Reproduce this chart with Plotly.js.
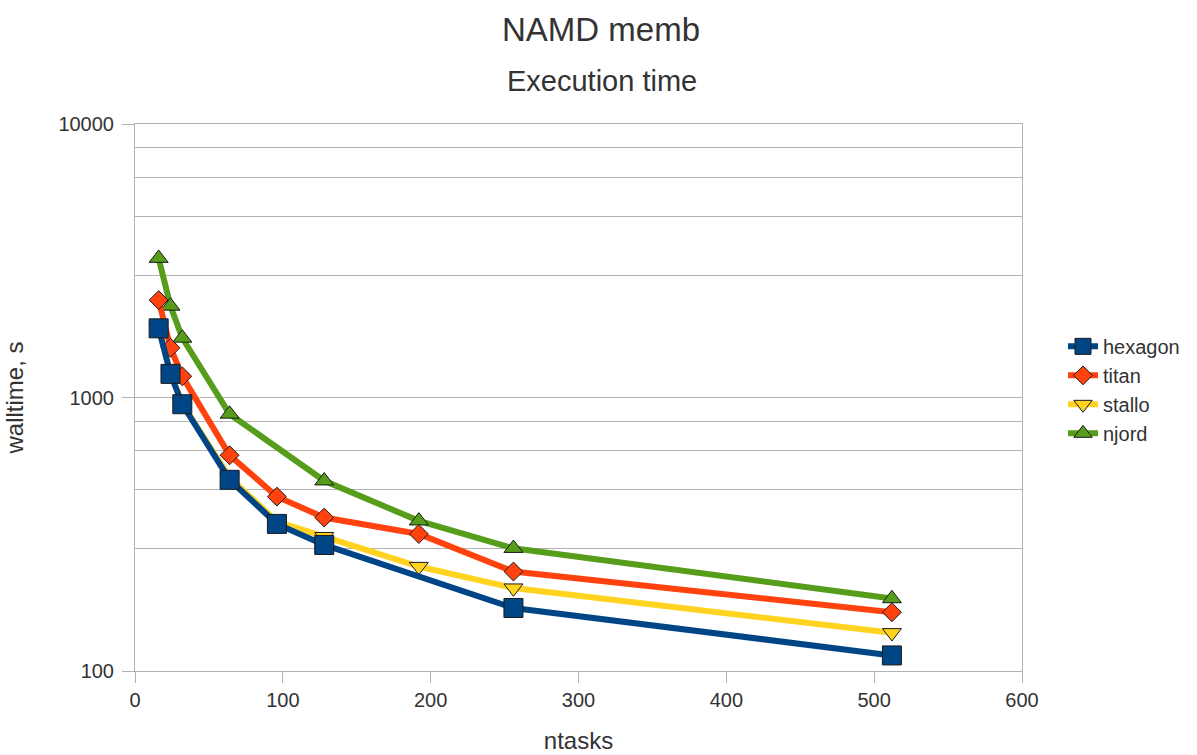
<!DOCTYPE html>
<html>
<head>
<meta charset="utf-8">
<script src="https://cdn.plot.ly/plotly-3.0.1.min.js"></script>
<style>html,body{margin:0;padding:0;background:#fff;}#chart{width:1197px;height:755px;}</style>
</head>
<body>
<div id="chart"></div>
<script>
// ntasks
const xHexagon = [16, 24, 32, 64, 96, 128, 256, 512];
const yHexagon = [1790, 1220, 945, 500, 345, 289, 170, 114];

const xTitan = [16, 24, 32, 64, 96, 128, 192, 256, 512];
const yTitan = [2270, 1520, 1195, 615, 434, 364, 317, 231, 164];

const xStallo = [16, 24, 32, 64, 96, 128, 192, 256, 512];
const yStallo = [1800, 1225, 948, 510, 352, 310, 241, 201, 138];

const xNjord = [16, 24, 32, 64, 128, 192, 256, 512];
const yNjord = [3230, 2160, 1650, 870, 496, 354, 281, 184];

const yMajorTicks = [100, 1000, 10000];
const yMajorLabels = ["100", "1000", "10000"];
const yMinorTicks = [280, 460, 640, 820, 2800, 4600, 6400, 8200];

const FONT = "Liberation Sans, Arial, sans-serif";
const GRID = "#b3b3b3";
const TXT = "#333333";

function series(name, xs, ys, color, symbol, size, rank) {
  return {
    type: "scatter", mode: "lines+markers", name: name, x: xs, y: ys, legendrank: rank,
    line: {color: color, width: 6},
    marker: {symbol: symbol, size: size, color: color, line: {color: "#1a1a1a", width: 1}}
  };
}

// drawing order: njord bottom, hexagon on top; legend order via legendrank
const data = [
  series("njord", xNjord, yNjord, "#579d1c", "triangle-up", 16.5, 4),
  series("stallo", xStallo, yStallo, "#ffd320", "triangle-down", 16.5, 3),
  series("titan", xTitan, yTitan, "#ff420e", "diamond", 14.5, 2),
  series("hexagon", xHexagon, yHexagon, "#004586", "square", 19, 1)
];

const layout = {
  width: 1197, height: 755,
  margin: {l: 135, r: 175, t: 124, b: 84},
  paper_bgcolor: "#ffffff", plot_bgcolor: "#ffffff",
  font: {family: FONT, color: TXT},
  showlegend: true,
  title: {text: "NAMD memb", font: {size: 33, color: TXT, family: FONT},
          x: 601 / 1197, xref: "container", xanchor: "center", y: 1 - 29/755, yanchor: "middle"},
  annotations: [{text: "Execution time", showarrow: false, xref: "paper", yref: "paper",
                 x: (601.5 - 135) / 887, y: (671 - 81) / 547, xanchor: "center", yanchor: "middle",
                 font: {size: 29, color: TXT, family: FONT}}],
  xaxis: {
    range: [0, 600], tickmode: "linear", tick0: 0, dtick: 100,
    ticks: "outside", ticklen: 11, tickcolor: GRID, tickwidth: 1,
    showgrid: false, zeroline: false, showline: true, linecolor: GRID, linewidth: 1, mirror: true,
    tickfont: {size: 20, color: TXT, family: FONT},
    title: {text: "ntasks", font: {size: 24, color: TXT, family: FONT}, standoff: 22}
  },
  yaxis: {
    type: "log", range: [2, 4],
    tickmode: "array", tickvals: yMajorTicks, ticktext: yMajorLabels,
    ticks: "outside", ticklen: 12, tickcolor: GRID, tickwidth: 1,
    ticklabelstandoff: 4,
    showgrid: true, gridcolor: GRID, gridwidth: 1,
    minor: {tickmode: "array", tickvals: yMinorTicks, showgrid: true, gridcolor: GRID, gridwidth: 1, ticks: ""},
    zeroline: false, showline: true, linecolor: GRID, linewidth: 1, mirror: true,
    tickfont: {size: 20, color: TXT, family: FONT},
    title: {text: "walltime, s", font: {size: 24, color: TXT, family: FONT}, standoff: 27}
  },
  legend: {x: (1063 - 135) / 887, xanchor: "left", y: 0.514, yanchor: "middle",
           font: {size: 20, color: TXT, family: FONT}, bgcolor: "rgba(0,0,0,0)",
           tracegroupgap: 0, itemwidth: 30}
};

Plotly.newPlot("chart", data, layout, {displayModeBar: false, staticPlot: true});
</script>
</body>
</html>
